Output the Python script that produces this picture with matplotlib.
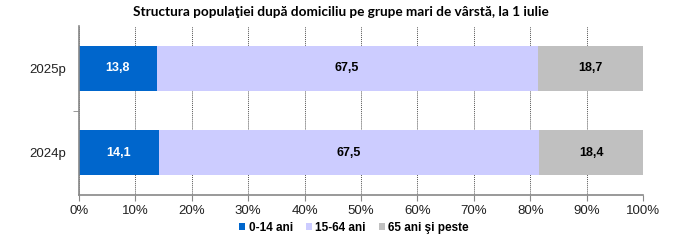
import matplotlib
matplotlib.use("Agg")
import matplotlib.pyplot as plt
from matplotlib.patches import Patch

categories = ["2024p", "2025p"]
series_names = ["0-14 ani", "15-64 ani", "65 ani şi peste"]
v_0_14 = [14.1, 13.8]
v_15_64 = [67.5, 67.5]
v_65 = [18.4, 18.7]
title = "Structura populaţiei după domiciliu pe grupe mari de vârstă, la 1 iulie"

colors = ["#0066CC", "#CCCCFF", "#C0C0C0"]
label_colors = ["white", "black", "black"]

plt.rcParams['font.family'] = ['Liberation Sans', 'DejaVu Sans']

fig = plt.figure(figsize=(6.81, 2.45), dpi=100)
ax = fig.add_axes([79/681, 1-195/245, (643-79)/681, (195-26)/245])

ys = list(range(len(categories)))
left = [0.0] * len(categories)
for vals, col, lc in zip([v_0_14, v_15_64, v_65], colors, label_colors):
    ax.barh(ys, vals, left=left, height=0.53, color=col, edgecolor='none', zorder=2)
    for y, v, l in zip(ys, vals, left):
        ax.text(l + v / 2, y, f"{v:.1f}".replace(".", ","), ha='center', va='center',
                color=lc, fontsize=9, fontweight='bold', zorder=3)
    left = [l + v for l, v in zip(left, vals)]

ax.set_xlim(0, 100)
ax.set_ylim(-0.5, 1.5)
ax.set_xticks(range(0, 101, 10))
ax.set_xticklabels([f"{t}%" for t in range(0, 101, 10)], fontsize=9.5, color='#222222')
ax.set_yticks(ys)
ax.set_yticklabels(categories, fontsize=9.5, color='#222222')
ax.tick_params(axis='y', which='major', length=0, pad=9)
ax.tick_params(axis='x', length=4, color='#888888', direction='out', pad=3)
ax.set_yticks([0.5], minor=True)
ax.tick_params(axis='y', which='minor', length=4, color='#888888')
ax.grid(axis='x', linestyle=(0, (1, 1)), color='#555555', linewidth=0.7, zorder=1)
for s in ['top', 'right']:
    ax.spines[s].set_visible(False)
for s in ['left', 'bottom']:
    ax.spines[s].set_color('#888888')
    ax.spines[s].set_linewidth(1.2)

fig.text(0.5, 1-12/245, title, ha='center', va='center', fontsize=9.8,
         fontweight='bold', family=['Lato', 'DejaVu Sans'])

handles = [Patch(facecolor=c, edgecolor='none') for c in colors]
leg = fig.legend(handles, series_names, loc='center', bbox_to_anchor=(0.52, 1-228/245),
                 ncol=3, frameon=False, handlelength=0.5, handleheight=0.5,
                 handletextpad=0.3, columnspacing=1.1,
                 prop={'size': 8.5, 'weight': 'bold'})

fig.savefig("out.png", dpi=100)
